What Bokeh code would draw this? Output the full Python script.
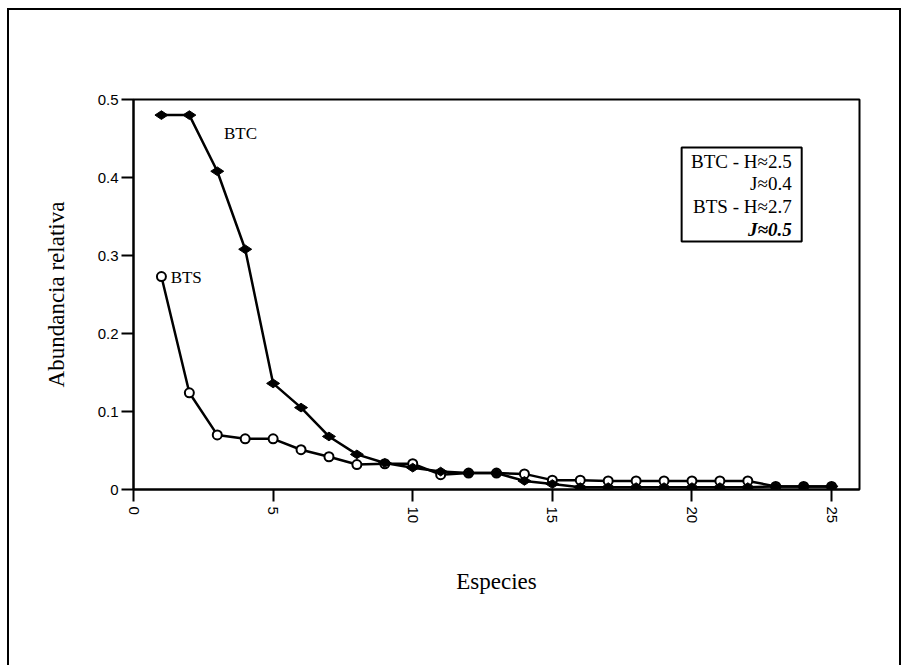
from bokeh.plotting import figure
from bokeh.models import (Range1d, FixedTicker, Label, BoxAnnotation,
                          CustomJSTickFormatter, InlineStyleSheet)
from bokeh.embed import file_html
from bokeh.resources import INLINE

# Rank-abundance data for the two sites
species = list(range(1, 26))
btc = [0.480, 0.480, 0.408, 0.308, 0.136, 0.105, 0.068, 0.045, 0.034, 0.028,
       0.023, 0.021, 0.021, 0.011, 0.007, 0.003, 0.003, 0.003, 0.003, 0.003,
       0.003, 0.003, 0.004, 0.004, 0.004]
bts = [0.273, 0.124, 0.070, 0.065, 0.065, 0.051, 0.042, 0.032, 0.033, 0.033,
       0.019, 0.021, 0.021, 0.020, 0.012, 0.012, 0.011, 0.011, 0.011, 0.011,
       0.011, 0.011, 0.004, 0.004, 0.004]

x_ticks = [0, 5, 10, 15, 20, 25]
y_ticks = [0, 0.1, 0.2, 0.3, 0.4, 0.5]

legend_lines = ["BTC - H\u22482.5", "J\u22480.4", "BTS - H\u22482.7", "J\u22480.5"]

SERIF = "Liberation Serif"
SANS = "Liberation Sans"

# Page frame drawn around the whole figure (open at the bottom edge)
frame_css = InlineStyleSheet(css="""
:host { position: relative; }
:host::after {
  content: "";
  position: absolute;
  left: 7px; top: 8px;
  width: 894px; height: 700px;
  box-sizing: border-box;
  border: 2px solid black;
  pointer-events: none;
}
""")

p = figure(width=905, height=665, output_backend="svg", toolbar_location=None,
           x_range=Range1d(0, 26), y_range=Range1d(0, 0.5),
           min_border_left=133, min_border_right=46,
           min_border_top=99, min_border_bottom=176)
p.stylesheets = [frame_css]
p.styles = {"overflow": "hidden"}
p.background_fill_color = "white"
p.border_fill_color = "white"
p.grid.visible = False
p.outline_line_color = "black"
p.outline_line_width = 2

for ax in (p.xaxis[0], p.yaxis[0]):
    ax.axis_line_width = 2
    ax.major_tick_line_width = 2
    ax.major_tick_in = 0
    ax.major_tick_out = 12
    ax.minor_tick_line_color = None
    ax.major_label_text_font = SANS
    ax.major_label_text_font_size = "15px"
    ax.major_label_text_color = "black"
    ax.axis_label_text_font = SERIF
    ax.axis_label_text_font_size = "23px"
    ax.axis_label_text_font_style = "normal"
    ax.axis_label_text_color = "black"

p.xaxis.ticker = FixedTicker(ticks=x_ticks)
p.xaxis.major_label_orientation = "vertical"
p.xaxis.major_label_standoff = 5
p.xaxis.axis_label = "Especies"
p.xaxis.axis_label_standoff = 43

p.yaxis.ticker = FixedTicker(ticks=y_ticks)
p.yaxis.formatter = CustomJSTickFormatter(code="return tick == 0 ? '0' : tick.toFixed(1);")
p.yaxis.major_label_standoff = 3
p.yaxis.axis_label = "Abundancia relativa"
p.yaxis.axis_label_standoff = 26

# Open-circle series drawn first, filled diamonds on top
p.line(species, bts, line_color="black", line_width=2.5)
p.scatter(species, bts, marker="circle", size=9, fill_color="white",
          line_color="black", line_width=2)
p.line(species, btc, line_color="black", line_width=2.5)
p.scatter(species, btc, marker="diamond", angle=1.5708, size=13,
          fill_color="black", line_color="black")

# Series labels next to the curves
p.add_layout(Label(x=3.83, y=0.456, text="BTC", text_font=SERIF,
                   text_font_size="17px", text_align="center",
                   text_baseline="middle", text_color="black"))
p.add_layout(Label(x=1.33, y=0.272, text="BTS", text_font=SERIF,
                   text_font_size="17px", text_align="left",
                   text_baseline="middle", text_color="black"))

# Diversity / evenness box
p.add_layout(BoxAnnotation(left=19.63, right=23.93, top=0.4385, bottom=0.318,
                           fill_color="white", fill_alpha=1,
                           line_color="black", line_alpha=1, line_width=2))
row_y = [0.4205, 0.3923, 0.3628, 0.3333]
for i, (txt, yy) in enumerate(zip(legend_lines, row_y)):
    style = "bold italic" if i == 3 else "normal"
    p.add_layout(Label(x=23.57, y=yy, text=txt, text_font=SERIF,
                       text_font_size="19px", text_font_style=style,
                       text_align="right", text_baseline="middle",
                       text_color="black"))

open("out.html", "w").write(file_html(p, INLINE))
